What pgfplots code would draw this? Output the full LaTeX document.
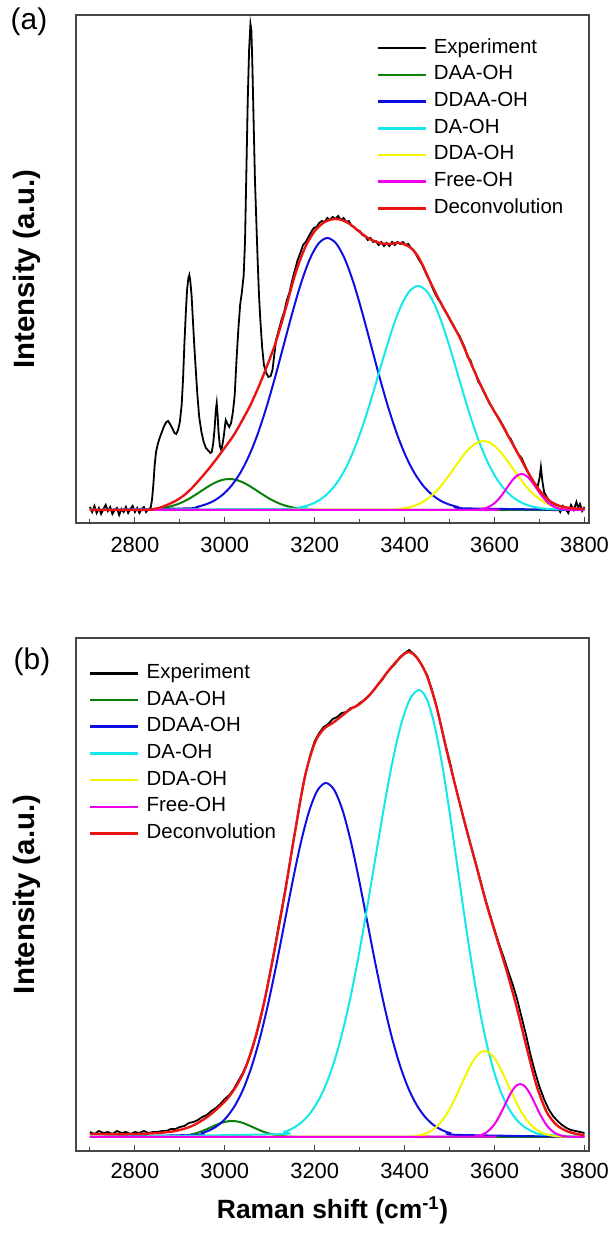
\documentclass[border=0pt]{standalone}
\usepackage{fontspec}
\setmainfont{Liberation Sans}
\usepackage{pgfplots}
\pgfplotsset{compat=1.18}
\definecolor{cgreen}{RGB}{10,128,10}
\definecolor{cblue}{RGB}{15,15,225}
\definecolor{ccyan}{RGB}{20,232,232}
\definecolor{cyell}{RGB}{245,245,0}
\definecolor{cmag}{RGB}{238,0,238}
\definecolor{cred}{RGB}{235,20,20}
\definecolor{frame}{RGB}{70,70,70}
\pgfplotsset{
  scale only axis, width=513bp,
  xmin=2669, xmax=3810,
  xtick={2800,3000,3200,3400,3600,3800},
  minor xtick={2700,2900,3100,3300,3500,3700},
  ytick=\empty,
  xtick pos=left, xtick align=inside,
  major tick length=6bp, minor tick length=3.5bp,
  axis line style={line width=1.4bp, frame},
  tick style={line width=1.1bp, frame},
  tick label style={font=\fontsize{22}{22}\selectfont},
  /pgf/number format/assume math mode=true,
  /pgf/number format/set thousands separator={},
  legend style={draw=none, fill=none, inner sep=0pt, font=\fontsize{20.5}{20.5}\selectfont,
    row sep=6.7bp, nodes={inner sep=0pt, text height=15bp, text depth=5bp}, anchor=north west},
  legend cell align=left,
  legend image code/.code={\draw[#1, line width=2.6bp] (0bp,0bp) -- (48bp,0bp); \path (55bp,0bp);},
  ylabel={Intensity (a.u.)},
  ylabel style={at={(axis description cs:-0.0955,0.5)}, anchor=center, font=\bfseries\fontsize{29.5}{29.5}\selectfont},
}
\begin{document}
\begin{tikzpicture}
\path[use as bounding box] (0,0) rectangle (614bp,1233bp);
\node[font=\fontsize{30}{30}\selectfont] at (29bp,1211bp) {(a)};
\node[font=\fontsize{30}{30}\selectfont] at (32bp,571bp) {(b)};
% ---------------- panel (a)
\begin{axis}[at={(76bp,710bp)}, anchor=south west, height=508bp, ymin=-13, ymax=495,
  xticklabel style={anchor=center, yshift=-22bp},
  legend style={at={(0.585,0.9547)}}]
\addplot[black, line width=1.8bp] coordinates {
(2700,3) (2705,-2) (2710,4) (2715,-3) (2720,2) (2725,-4) (2730,1) (2735,5) (2740,-1) (2745,3) (2750,-4) (2755,0) (2760,2) (2765,-5) (2770,1) (2775,-2) (2780,3) (2785,-3) (2790,1) (2795,4) (2800,-2) (2805,2) (2810,-3) (2815,1) (2820,3) (2825,-2) (2830,1) (2835,2)
(2838,10) (2841,25) (2844,45) (2847,58) (2851,66) (2855,72) (2860,78) (2865,84) (2870,88) (2874,89) (2878,86) (2883,82) (2888,77) (2892,76) (2896,80) (2900,88) (2904,105) (2907,130) (2910,165) (2913,195) (2916,220) (2919,232) (2921,235) (2923,230) (2926,215) (2929,190) (2932,165) (2935,143) (2939,115) (2943,93) (2948,78) (2953,68) (2958,62) (2964,59) (2968,57) (2971,58) (2974,66) (2977,80) (2980,100) (2982,107) (2984,95) (2986,78) (2989,64) (2992,60) (2995,66) (2998,75) (3002,90) (3006,86) (3010,83) (3014,87) (3018,98) (3022,115) (3026,150) (3030,180) (3034,205) (3038,218) (3042,235) (3045,270) (3048,340) (3051,410) (3054,460) (3057,486) (3059,480) (3061,450) (3063,410) (3065,370) (3067,330) (3070,290) (3073,250) (3076,215) (3079,190) (3083,163) (3087,145) (3092,137) (3097,133) (3102,134) (3106,140) (3110,155) (3114,170)
(3120,180) (3126,190) (3132,198) (3138,210) (3144,218) (3150,230) (3156,240) (3162,250) (3168,257) (3174,265) (3180,268) (3186,273) (3192,278) (3198,282) (3204,283) (3210,287) (3216,289) (3222,288) (3228,292) (3234,290) (3240,293) (3246,291) (3252,294) (3258,290) (3264,292) (3270,288) (3276,289) (3282,284) (3288,283) (3294,280) (3300,279) (3306,275) (3312,274) (3318,270) (3324,272) (3330,268) (3336,269) (3342,265) (3348,268) (3354,264) (3360,267) (3366,264) (3372,268) (3378,265) (3384,268) (3390,266) (3396,268) (3402,265) (3408,266) (3414,262) (3420,260) (3426,255) (3432,250) (3438,246) (3444,240) (3450,234) (3456,229) (3462,222) (3468,216) (3474,211) (3480,208) (3486,202) (3492,198) (3498,193) (3504,188) (3510,183) (3516,178) (3522,174) (3528,168) (3534,162) (3540,153) (3546,150) (3552,142) (3558,136) (3564,128) (3570,124) (3576,118) (3582,113) (3588,107) (3594,103) (3600,98) (3606,94) (3612,90) (3618,85) (3624,80) (3630,74) (3636,71) (3642,65) (3648,60) (3654,55) (3660,52) (3666,46) (3672,40) (3678,35) (3684,30) (3690,26) (3696,24) (3700,32) (3703,43) (3706,30) (3710,18) (3716,13) (3722,9) (3728,7) (3734,5) (3740,3) (3746,-2) (3752,4) (3758,1) (3764,-3) (3770,5) (3776,0) (3782,8) (3786,2) (3790,6) (3795,-1) (3800,3)};
\addlegendentry{Experiment}
\addplot[cgreen, line width=2bp, smooth] coordinates {
(2700,0) (2808.4,0.2) (2821,0.3) (2833.6,0.6) (2846.2,1.1) (2858.8,1.7) (2871.4,2.8) (2884,4.2) (2896.6,6.1) (2909.2,8.6) (2921.8,11.6) (2934.4,15.1) (2947,18.8) (2959.6,22.5) (2972.2,25.9) (2984.8,28.6) (2997.4,30.4) (3010,31) (3022.6,30.4) (3035.2,28.6) (3047.8,25.9) (3060.4,22.5) (3073,18.8) (3085.6,15.1) (3098.2,11.6) (3110.8,8.6) (3123.4,6.1) (3136,4.2) (3148.6,2.8) (3161.2,1.7) (3173.8,1.1) (3186.4,0.6) (3199,0.3) (3211.6,0.2) (3800,0)};
\addlegendentry{DAA-OH}
\addplot[cblue, line width=2bp, smooth] coordinates {
(2700,0) (2917.6,1.6) (2937,3.0) (2956.4,5.4) (2975.8,9.2) (2995.2,15.3) (3014.6,24.2) (3034,36.8) (3053.4,53.8) (3072.8,75.6) (3092.2,102.1) (3111.6,132.4) (3131,165.0) (3150.4,197.5) (3169.8,227.2) (3189.2,251.1) (3208.6,266.6) (3228,272) (3247.4,266.6) (3266.8,251.1) (3286.2,227.2) (3305.6,197.5) (3325,165.0) (3344.4,132.4) (3363.8,102.1) (3383.2,75.6) (3402.6,53.8) (3422,36.8) (3441.4,24.2) (3460.8,15.3) (3480.2,9.2) (3499.6,5.4) (3519,3.0) (3538.4,1.6) (3800,0)};
\addlegendentry{DDAA-OH}
\addplot[ccyan, line width=2bp, smooth] coordinates {
(2700,0) (3148.4,1.3) (3166,2.5) (3183.6,4.4) (3201.2,7.6) (3218.8,12.6) (3236.4,19.9) (3254,30.3) (3271.6,44.3) (3289.2,62.3) (3306.8,84.1) (3324.4,109.0) (3342,135.9) (3359.6,162.6) (3377.2,187.1) (3394.8,206.8) (3412.4,219.6) (3430,224) (3447.6,219.6) (3465.2,206.8) (3482.8,187.1) (3500.4,162.6) (3518,135.9) (3535.6,109.0) (3553.2,84.1) (3570.8,62.3) (3588.4,44.3) (3606,30.3) (3623.6,19.9) (3641.2,12.6) (3658.8,7.6) (3676.4,4.4) (3694,2.5) (3711.6,1.3) (3800,0)};
\addlegendentry{DA-OH}
\addplot[cyell, line width=2bp, smooth] coordinates {
(2700,0) (3367,0.4) (3380,0.8) (3393,1.4) (3406,2.3) (3419,3.9) (3432,6.1) (3445,9.3) (3458,13.7) (3471,19.2) (3484,25.9) (3497,33.6) (3510,41.8) (3523,50.1) (3536,57.6) (3549,63.7) (3562,67.6) (3575,69) (3588,67.6) (3601,63.7) (3614,57.6) (3627,50.1) (3640,41.8) (3653,33.6) (3666,25.9) (3679,19.2) (3692,13.7) (3705,9.3) (3718,6.1) (3731,3.9) (3744,2.3) (3757,1.4) (3770,0.8) (3783,0.4) (3800,0)};
\addlegendentry{DDA-OH}
\addplot[cmag, line width=2bp, smooth] coordinates {
(2700,0) (3554.4,0.2) (3561,0.4) (3567.6,0.7) (3574.2,1.2) (3580.8,2.0) (3587.4,3.2) (3594,4.9) (3600.6,7.1) (3607.2,10.0) (3613.8,13.5) (3620.4,17.5) (3627,21.8) (3633.6,26.1) (3640.2,30.1) (3646.8,33.2) (3653.4,35.3) (3660,36) (3666.6,35.3) (3673.2,33.2) (3679.8,30.1) (3686.4,26.1) (3693,21.8) (3699.6,17.5) (3706.2,13.5) (3712.8,10.0) (3719.4,7.1) (3726,4.9) (3732.6,3.2) (3739.2,2.0) (3745.8,1.2) (3752.4,0.7) (3759,0.4) (3765.6,0.2) (3800,0)};
\addlegendentry{Free-OH}
\addplot[cred, line width=2.4bp, smooth] coordinates {
(2700,0) (2800,0) (2835,0.5) (2860,3) (2890,9) (2910,15) (2927,22) (2945,31) (2964,41) (2983,52) (3001,63) (3020,75) (3038,89) (3057,105) (3075,123) (3093,143) (3112,166) (3134,199) (3156,235) (3178,262) (3200,279) (3222,288) (3244,291) (3260,290) (3278,286) (3300,278) (3322,271) (3345,267) (3367,266) (3389,267) (3411,263) (3426,256) (3441,244) (3456,229) (3478,209) (3500,191) (3523,172) (3545,149) (3567,127) (3590,106) (3612,89) (3634,71) (3656,53) (3679,34) (3701,19) (3723,9) (3745,4) (3768,2) (3800,1)};
\addlegendentry{Deconvolution}
\end{axis}
% ---------------- panel (b)
\begin{axis}[at={(76bp,82bp)}, anchor=south west, height=513bp, ymin=-14, ymax=499,
  xticklabel style={anchor=center, yshift=-19.5bp},
  xlabel={Raman shift (cm\textsuperscript{-1})},
  xlabel style={at={(axis description cs:0.5,-0.115)}, anchor=center, font=\bfseries\fontsize{26.5}{26.5}\selectfont},
  legend style={at={(0.0253,0.951)}}]
\addplot[black, line width=1.8bp] coordinates {
(2700,5) (2710,3) (2720,6) (2730,4) (2740,5) (2750,3) (2760,6) (2770,4) (2780,5) (2790,3) (2800,5) (2810,4) (2820,6) (2830,4) (2840,5) (2850,5) (2860,6) (2870,6) (2880,8) (2890,8) (2900,10) (2910,11) (2920,14) (2930,15) (2940,17) (2950,20) (2960,22) (2970,26) (2980,29) (2990,33) (3000,38) (3010,42) (3020,48) (3030,56) (3040,64) (3050,74) (3060,87) (3070,102) (3080,119) (3090,140) (3100,163) (3110,186) (3120,212) (3130,236) (3140,262) (3150,289) (3160,315) (3170,342) (3180,364) (3190,382) (3200,396) (3210,404) (3220,410) (3230,413) (3240,418) (3250,420) (3260,424) (3270,425) (3280,429) (3290,430) (3300,434) (3310,437) (3320,441) (3330,446) (3340,452) (3350,457) (3360,464) (3370,469) (3380,474) (3390,480) (3400,484) (3410,487) (3420,483) (3430,478) (3440,470) (3450,462) (3460,448) (3470,432) (3480,413) (3490,394) (3500,376) (3510,356) (3520,338) (3530,320) (3540,303) (3550,287) (3560,271) (3570,254) (3580,237) (3590,222) (3600,207) (3610,193) (3620,180) (3630,166) (3640,153) (3650,138) (3660,120) (3670,102) (3680,82) (3690,65) (3700,50) (3710,38) (3720,28) (3730,21) (3740,16) (3750,12) (3760,9) (3770,7) (3780,6) (3790,5) (3800,4)};
\addlegendentry{Experiment}
\addplot[cgreen, line width=2bp, smooth] coordinates {
(2700,0) (2865.6,0.1) (2875,0.2) (2884.4,0.3) (2893.8,0.5) (2903.2,0.9) (2912.6,1.4) (2922,2.2) (2931.4,3.2) (2940.8,4.4) (2950.2,6.0) (2959.6,7.8) (2969,9.7) (2978.4,11.6) (2987.8,13.4) (2997.2,14.8) (3006.6,15.7) (3016,16) (3025.4,15.7) (3034.8,14.8) (3044.2,13.4) (3053.6,11.6) (3063,9.7) (3072.4,7.8) (3081.8,6.0) (3091.2,4.4) (3100.6,3.2) (3110,2.2) (3119.4,1.4) (3128.8,0.9) (3138.2,0.5) (3147.6,0.3) (3157,0.2) (3166.4,0.1) (3800,0)};
\addlegendentry{DAA-OH}
\addplot[cblue, line width=2bp, smooth] coordinates {
(2700,0) (2930.6,2.1) (2949,3.9) (2967.4,7.0) (2985.8,12.0) (3004.2,19.9) (3022.6,31.5) (3041,47.9) (3059.4,70.1) (3077.8,98.4) (3096.2,132.9) (3114.6,172.3) (3133,214.7) (3151.4,257.0) (3169.8,295.7) (3188.2,326.8) (3206.6,347.0) (3225,354) (3243.4,347.0) (3261.8,326.8) (3280.2,295.7) (3298.6,257.0) (3317,214.7) (3335.4,172.3) (3353.8,132.9) (3372.2,98.4) (3390.6,70.1) (3409,47.9) (3427.4,31.5) (3445.8,19.9) (3464.2,12.0) (3482.6,7.0) (3501,3.9) (3519.4,2.1) (3800,0)};
\addlegendentry{DDAA-OH}
\addplot[ccyan, line width=2bp, smooth] coordinates {
(2700,0) (3112,2.7) (3132,5.0) (3152,8.9) (3172,15.2) (3192,25.1) (3212,39.7) (3232,60.5) (3252,88.5) (3272,124.3) (3292,167.8) (3312,217.6) (3332,271.1) (3352,324.6) (3372,373.4) (3392,412.6) (3412,438.1) (3432,447) (3449,438.1) (3466,412.6) (3483,373.4) (3500,324.6) (3517,271.1) (3534,217.6) (3551,167.8) (3568,124.3) (3585,88.5) (3602,60.5) (3619,39.7) (3636,25.1) (3653,15.2) (3670,8.9) (3687,5.0) (3704,2.7) (3800,0)};
\addlegendentry{DA-OH}
\addplot[cyell, line width=2bp, smooth] coordinates {
(2700,0) (3411.6,0.5) (3422,1.0) (3432.4,1.7) (3442.8,2.9) (3453.2,4.8) (3463.6,7.6) (3474,11.6) (3484.4,17.0) (3494.8,23.9) (3505.2,32.3) (3515.6,41.9) (3526,52.2) (3536.4,62.4) (3546.8,71.8) (3557.2,79.4) (3567.6,84.3) (3578,86) (3588.4,84.3) (3598.8,79.4) (3609.2,71.8) (3619.6,62.4) (3630,52.2) (3640.4,41.9) (3650.8,32.3) (3661.2,23.9) (3671.6,17.0) (3682,11.6) (3692.4,7.6) (3702.8,4.8) (3713.2,2.9) (3723.6,1.7) (3734,1.0) (3744.4,0.5) (3800,0)};
\addlegendentry{DDA-OH}
\addplot[cmag, line width=2bp, smooth] coordinates {
(2700,0) (3548.2,0.3) (3555,0.6) (3561.8,1.0) (3568.6,1.8) (3575.4,3.0) (3582.2,4.7) (3589,7.2) (3595.8,10.5) (3602.6,14.7) (3609.4,19.9) (3616.2,25.8) (3623,32.1) (3629.8,38.5) (3636.6,44.3) (3643.4,48.9) (3650.2,52.0) (3657,53) (3663.8,52.0) (3670.6,48.9) (3677.4,44.3) (3684.2,38.5) (3691,32.1) (3697.8,25.8) (3704.6,19.9) (3711.4,14.7) (3718.2,10.5) (3725,7.2) (3731.8,4.7) (3738.6,3.0) (3745.4,1.8) (3752.2,1.0) (3759,0.6) (3765.8,0.3) (3800,0)};
\addlegendentry{Free-OH}
\addplot[cred, line width=2.4bp, smooth] coordinates {
(2700,3) (2800,3) (2850,4) (2890,6) (2927,11) (2964,21) (3001,36) (3023,49) (3045,68) (3067,98) (3089,138) (3111,188) (3134,245) (3156,305) (3178,360) (3200,394) (3220,408) (3240,414) (3260,421) (3280,428) (3300,433) (3322,442) (3345,455) (3367,468) (3389,479) (3408,485) (3426,480) (3448,463) (3471,430) (3493,387) (3515,347) (3538,307) (3560,270) (3582,233) (3604,200) (3627,166) (3649,130) (3671,90) (3693,52) (3716,25) (3738,12) (3760,6) (3782,3) (3800,2)};
\addlegendentry{Deconvolution}
\end{axis}
\end{tikzpicture}
\end{document}
